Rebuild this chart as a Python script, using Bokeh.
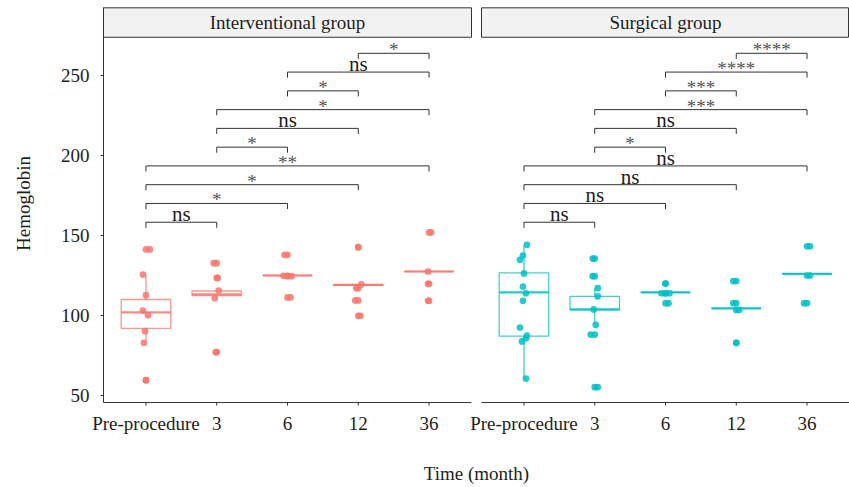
import numpy as np
from bokeh.plotting import figure
from bokeh.models import FixedTicker, Range1d
from bokeh.embed import file_html
from bokeh.resources import INLINE
from bokeh.core.properties import value

# ---------------- data ----------------
times = ["Pre-procedure", "3", "6", "12", "36"]
groups = ["Interventional group", "Surgical group"]
group_colors = ["#F8766D", "#00BFC4"]

# Interventional group observations (Hemoglobin) per time point
int_pre = [141.3, 125.6, 112.7, 103.1, 100.2, 90.2, 82.9, 59.6]
int_m3 = [132.7, 123.5, 115.6, 110.8, 77.1]
int_m6 = [137.9, 124.8, 124.6, 111.3]
int_m12 = [142.7, 119.4, 117.1, 109.4, 99.8]
int_m36 = [151.9, 127.5, 119.8, 109.2]
# Surgical group observations
sur_pre = [144.2, 137.5, 134.8, 126.3, 118.1, 113.9, 109.2, 92.5, 87.5, 85.8, 83.8, 60.6]
sur_m3 = [135.6, 124.6, 117.1, 111.9, 103.8, 94.2, 88.1, 55.2]
sur_m6 = [120.0, 113.9, 113.9, 107.7]
sur_m12 = [121.5, 107.7, 103.5, 82.9]
sur_m36 = [143.3, 125.0, 107.7]

# horizontal jitter of the points (pixels)
int_pre_jit = [4, -3, 0, -3, 2, -1, -2, 0]
int_m3_jit = [-3, 1, 2, -2, -1]
int_m6_jit = [-3, -4, 4, 3]
int_m12_jit = [0, 3, -2, -3, 2]
int_m36_jit = [2, -1, -1, -1]
sur_pre_jit = [3, -1, -4, 0, -1, 2, -1, -4, 3, 2, -2, 2]
sur_m3_jit = [-2, -2, 3, 3, -1, 1, -4, 3]
sur_m6_jit = [0, -4, 4, 3]
sur_m12_jit = [-3, -3, 3, 0]
sur_m36_jit = [3, 3, -3]

# boxplot statistics
int_q1 = [92.0, 112.5, 125.0, 118.9, 127.5]
int_med = [101.9, 113.2, 125.0, 119.1, 127.5]
int_q3 = [110.0, 115.3, 125.0, 119.3, 127.5]
int_lo = [82.9, 110.8, 125.0, 118.9, 127.5]
int_hi = [125.6, 115.6, 125.0, 119.4, 127.5]
sur_q1 = [87.1, 103.5, 114.4, 104.4, 126.0]
sur_med = [114.4, 103.8, 114.4, 104.4, 126.0]
sur_q3 = [126.7, 111.9, 114.4, 104.4, 126.0]
sur_lo = [60.6, 94.2, 114.4, 104.4, 126.0]
sur_hi = [144.2, 117.1, 114.4, 104.4, 126.0]

# pairwise comparisons and significance labels
pairs = [(0, 1), (0, 2), (0, 3), (0, 4), (1, 2), (1, 3), (1, 4), (2, 3), (2, 4), (3, 4)]
int_sig = ["ns", "*", "*", "**", "*", "ns", "*", "*", "ns", "*"]
sur_sig = ["ns", "ns", "ns", "ns", "*", "ns", "***", "***", "****", "****"]

y_ticks = [50, 100, 150, 200, 250]

panels = [
    dict(points=[int_pre, int_m3, int_m6, int_m12, int_m36],
         jit=[int_pre_jit, int_m3_jit, int_m6_jit, int_m12_jit, int_m36_jit],
         q1=int_q1, med=int_med, q3=int_q3, lo=int_lo, hi=int_hi, sig=int_sig),
    dict(points=[sur_pre, sur_m3, sur_m6, sur_m12, sur_m36],
         jit=[sur_pre_jit, sur_m3_jit, sur_m6_jit, sur_m12_jit, sur_m36_jit],
         q1=sur_q1, med=sur_med, q3=sur_q3, lo=sur_lo, hi=sur_hi, sig=sur_sig),
]

# ---------------- layout ----------------
W, H = 849, 487
left_space = 103
gap_px = 10.0
pad = 0.6
panel_w = len(times) - 1 + 2 * pad
PX = (W - left_space - gap_px) / (2 * panel_w)   # pixels per category unit
gap = gap_px / PX
panel_start = [0.0, panel_w + gap]
x_end = 2 * panel_w + gap
x_start = -left_space / PX
PY = 1.6
y_end = 250 + 75 / PY
y_start = y_end - H / PY
y_axis_bottom = 45.6
strip_bottom = 273.9
strip_top = 292.3
bracket_base = 158.3
bracket_step = 11.73
tip = 3.5
FONT_NAME = "Liberation Serif"
FONT = value(FONT_NAME)
FS = "19px"
INK = "#1e1e1e"
LINE = "#333333"


def ypix(page_y):
    """data value at a given page row"""
    return y_end - page_y / PY


p = figure(width=W, height=H,
           x_range=Range1d(x_start, x_end), y_range=Range1d(y_start, y_end),
           output_backend="svg", toolbar_location=None,
           x_axis_location=None, y_axis_location="left",
           min_border_left=0, min_border_right=0,
           min_border_top=0, min_border_bottom=0)
p.outline_line_color = None
p.xgrid.visible = False
p.ygrid.visible = False
p.background_fill_color = "white"

ax = p.yaxis[0]
ax.fixed_location = 0.0
ax.ticker = FixedTicker(ticks=y_ticks)
ax.bounds = (y_axis_bottom, strip_top)
ax.minor_tick_line_color = None
ax.major_tick_in = 0
ax.major_tick_out = 3
ax.axis_line_color = LINE
ax.major_tick_line_color = LINE
ax.major_label_text_font = FONT_NAME
ax.major_label_text_font_size = FS
ax.major_label_text_color = INK
ax.major_label_standoff = 11

# y axis title
p.text(x=[x_start + 23 / PX], y=[ypix(203)], text=["Hemoglobin"], angle=np.pi / 2,
       text_font=FONT, text_font_size=FS, text_color=INK,
       text_align="center", text_baseline="middle")

box_w = 0.7

for g, pan in enumerate(panels):
    x0 = panel_start[g]
    x1 = x0 + panel_w
    col = group_colors[g]
    cx = [x0 + pad + i for i in range(len(times))]

    # strip header
    p.quad(left=[x0], right=[min(x1, x_end - 1.0 / PX)], bottom=[strip_bottom], top=[strip_top],
           fill_color="#F2F2F2", line_color=LINE, line_width=1)
    p.text(x=[(x0 + x1) / 2], y=[(strip_bottom + strip_top) / 2], text=[groups[g]],
           text_font=FONT, text_font_size=FS, text_color=INK,
           text_align="center", text_baseline="middle")

    # x axis line, ticks and labels
    p.segment(x0=[x0], y0=[y_axis_bottom], x1=[x1], y1=[y_axis_bottom],
              line_color=LINE, line_width=1)
    p.segment(x0=cx, y0=[y_axis_bottom] * len(cx), x1=cx,
              y1=[y_axis_bottom - 3.0 / PY] * len(cx), line_color=LINE, line_width=1)
    p.text(x=cx, y=[ypix(423)] * len(cx), text=times, text_font=FONT, text_font_size=FS,
           text_color=INK, text_align="center", text_baseline="middle")

    # boxplots
    p.quad(left=[c - box_w / 2 for c in cx], right=[c + box_w / 2 for c in cx],
           bottom=pan["q1"], top=pan["q3"], fill_color=None,
           line_color=col, line_alpha=0.75, line_width=1.3)
    p.segment(x0=cx, y0=pan["q3"], x1=cx, y1=pan["hi"], line_color=col, line_alpha=0.75, line_width=1.3)
    p.segment(x0=cx, y0=pan["q1"], x1=cx, y1=pan["lo"], line_color=col, line_alpha=0.75, line_width=1.3)
    p.segment(x0=[c - box_w / 2 for c in cx], y0=pan["med"], x1=[c + box_w / 2 for c in cx],
              y1=pan["med"], line_color=col, line_alpha=0.85, line_width=2.2)

    # outliers (boxplot) + jittered points
    ox, oy, jx, jy = [], [], [], []
    for i, (vals, jit) in enumerate(zip(pan["points"], pan["jit"])):
        for v, j in zip(vals, jit):
            if v > pan["hi"][i] + 1e-9 or v < pan["lo"][i] - 1e-9:
                ox.append(cx[i])
                oy.append(v)
            jx.append(cx[i] + j / PX)
            jy.append(v)
    p.scatter(ox, oy, size=6.7, fill_color=col, fill_alpha=0.85, line_color=None)
    p.scatter(jx, jy, size=6.7, fill_color=col, fill_alpha=0.85, line_color=None)

    # significance brackets
    for k, ((a, b), lab) in enumerate(zip(pairs, pan["sig"])):
        yb = bracket_base + k * bracket_step
        p.line(x=[cx[a], cx[a], cx[b], cx[b]], y=[yb - tip, yb, yb, yb - tip],
               line_color=LINE, line_width=1)
        is_ns = lab == "ns"
        p.text(x=[(cx[a] + cx[b]) / 2], y=[yb + (8.1 if is_ns else 3.5) / PY], text=[lab],
               text_font=FONT, text_font_size="21px" if is_ns else FS,
               text_color=INK if is_ns else "#555555", text_align="center",
               text_baseline="middle")

# x axis title
p.text(x=[x_end / 2], y=[ypix(473)], text=["Time (month)"],
       text_font=FONT, text_font_size=FS, text_color=INK,
       text_align="center", text_baseline="middle")

open("out.html", "w").write(file_html(p, INLINE))
